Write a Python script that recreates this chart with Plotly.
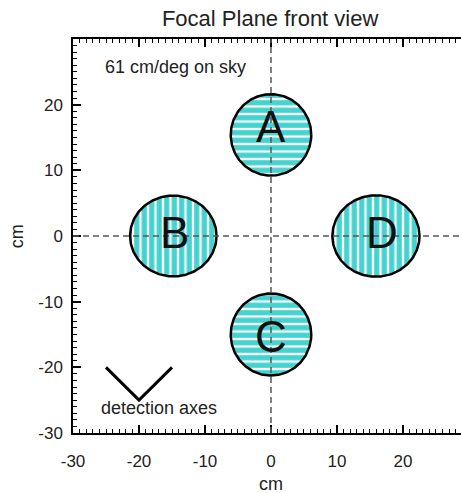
import numpy as np
import plotly.graph_objects as go

# Detector positions on the focal plane (cm)
det_labels = ["A", "B", "C", "D"]
det_cx = [0.0, -14.8, 0.0, 15.9]
det_cy = [15.4, 0.0, -15.0, 0.0]
det_rx = [6.1, 6.55, 6.1, 6.6]
det_ry = [6.2, 6.15, 6.25, 6.2]
det_stripe = ["-", "|", "-", "|"]
label_x = [0.0, -14.6, 0.0, 16.8]
label_y = [16.6, 0.5, -15.3, 0.5]

# Detection-axes marker (V shape)
axes_x = [-25, -20, -15]
axes_y = [-20, -25, -20]

x_range = [-30, 28.79]
y_range = [-30, 30]
major_ticks = [-30, -20, -10, 0, 10, 20]
major_text = ["-30", "-20", "-10", "0", "10", "20"]

TURQ = "#45d3d0"
TEXT = "#222222"
FONT = "Liberation Sans, Arial, Helvetica, sans-serif"

fig = go.Figure()

t = np.linspace(0, 2 * np.pi, 241)
for lab, cx, cy, rx, ry, sh in zip(det_labels, det_cx, det_cy, det_rx, det_ry, det_stripe):
    fig.add_trace(go.Scatter(
        x=cx + rx * np.cos(t), y=cy + ry * np.sin(t),
        mode="lines", fill="toself",
        fillcolor="white",
        fillpattern=dict(shape=sh, size=7.5, solidity=0.7,
                         fgcolor=TURQ, bgcolor="white", fillmode="replace"),
        line=dict(color="black", width=2.5),
        hoverinfo="skip", showlegend=False, name=lab,
    ))

fig.add_trace(go.Scatter(
    x=axes_x, y=axes_y, mode="lines",
    line=dict(color="black", width=3),
    hoverinfo="skip", showlegend=False,
))

# Dashed cross-hairs through the origin
dash_style = dict(color="#555555", width=1.5, dash="6px,4px")
fig.add_shape(type="line", xref="x", yref="paper", x0=0, x1=0, y0=0, y1=1,
              line=dash_style, layer="above")
fig.add_shape(type="line", xref="paper", yref="y", x0=0, x1=1, y0=0, y1=0,
              line=dash_style, layer="above")

for lab, lx, ly in zip(det_labels, label_x, label_y):
    fig.add_annotation(x=lx, y=ly, text=lab, showarrow=False,
                       font=dict(size=44, color="#111111", family=FONT),
                       xanchor="center", yanchor="middle")

fig.add_annotation(x=-14.4, y=25.7, text="61 cm/deg on sky", showarrow=False,
                   font=dict(size=18, color=TEXT, family=FONT),
                   xanchor="center", yanchor="middle")
fig.add_annotation(x=-17.0, y=-26.2, text="detection axes", showarrow=False,
                   font=dict(size=18, color=TEXT, family=FONT),
                   xanchor="center", yanchor="middle")

# Axis titles
fig.add_annotation(x=0, xref="x", y=-0.129, yref="paper", text="cm", showarrow=False,
                   font=dict(size=18, color=TEXT, family=FONT),
                   xanchor="center", yanchor="middle")
fig.add_annotation(x=-0.144, xref="paper", y=0, yref="y", text="cm", showarrow=False,
                   textangle=-90, font=dict(size=18, color=TEXT, family=FONT),
                   xanchor="center", yanchor="middle")

axis_common = dict(
    showgrid=False, zeroline=False, automargin=False,
    showline=True, linecolor="black", linewidth=1.5,
    ticks="inside", ticklen=8, tickwidth=1.5, tickcolor="black",
    tickvals=major_ticks, ticktext=major_text,
    tickfont=dict(size=17, color=TEXT, family=FONT),
    minor=dict(ticks="inside", ticklen=4, tickwidth=1, tickcolor="black", dtick=1),
)

fig.update_xaxes(range=x_range, mirror="ticks", ticklabelstandoff=12, **axis_common)
fig.update_yaxes(range=y_range, mirror=False, ticklabelstandoff=5, **axis_common)

fig.update_layout(
    width=461, height=493,
    margin=dict(l=73, r=0, t=39, b=60),
    paper_bgcolor="white", plot_bgcolor="white",
    title=dict(text="Focal Plane front view", x=0.586, xanchor="center",
               y=1 - 18 / 493, yanchor="middle",
               font=dict(size=22, color=TEXT, family=FONT)),
)

fig.write_html("out.html")
